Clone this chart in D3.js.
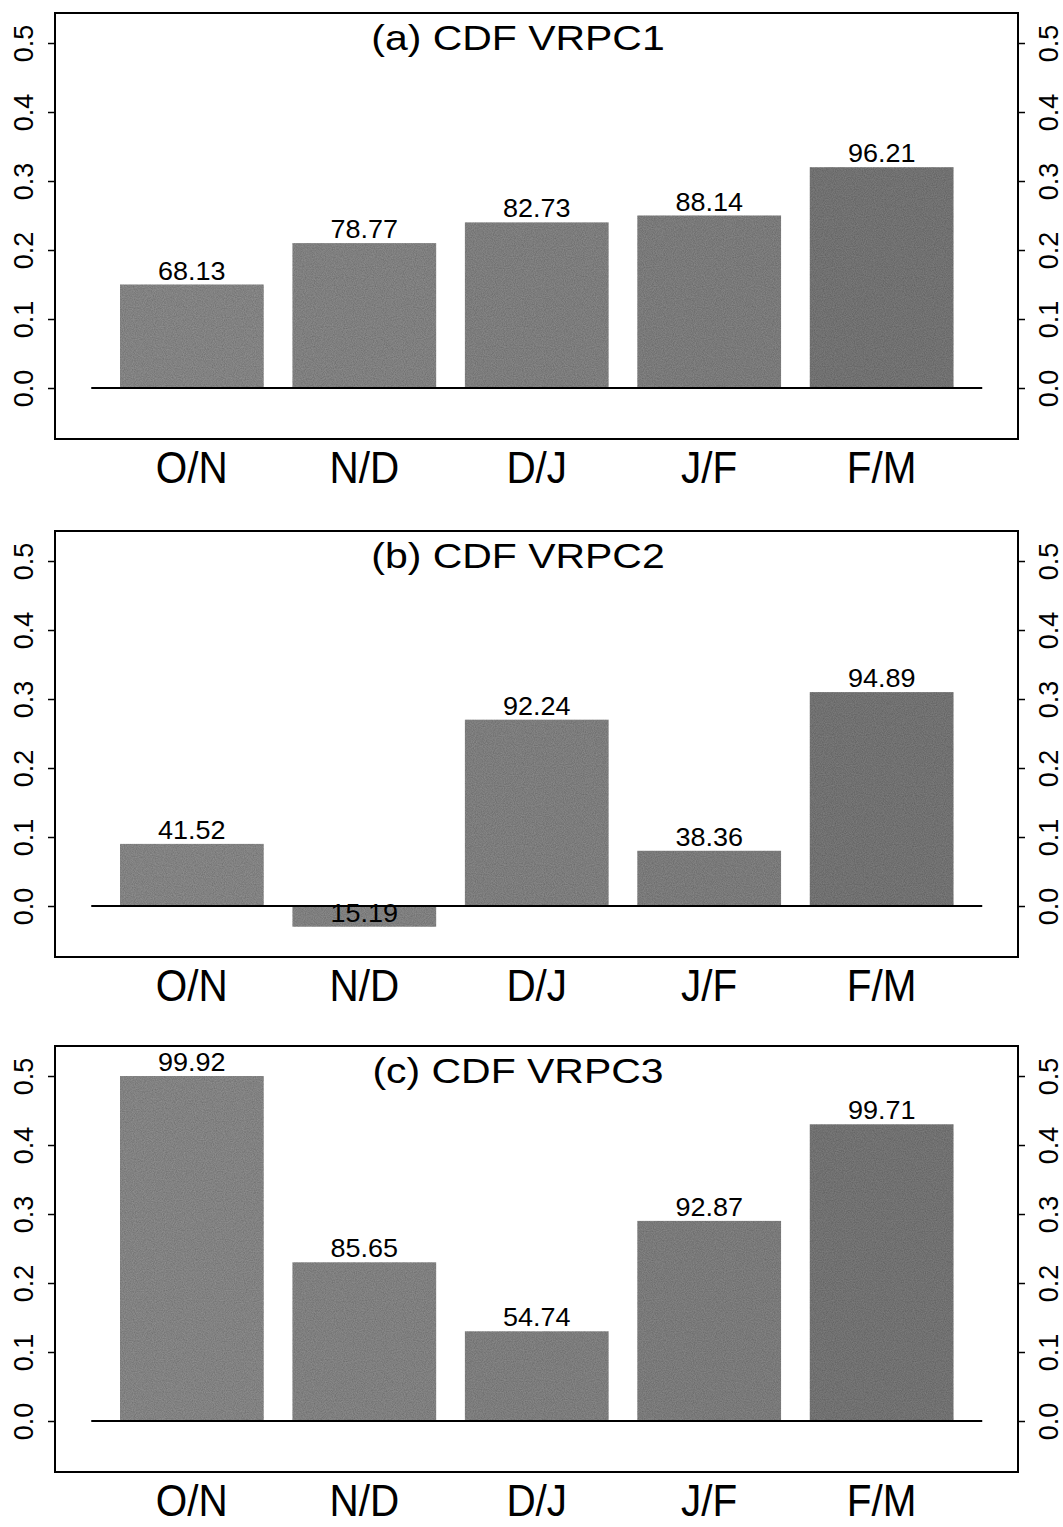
<!DOCTYPE html>
<meta charset="utf-8">
<style>
  body { margin: 0; background: #fff; }
  svg text { font-family: 'Liberation Sans', Arial, Helvetica, sans-serif; fill: #000; }
</style>
<svg width="1063" height="1527">
  <defs>
    <filter id="grain" x="0" y="0" width="100%" height="100%">
      <feTurbulence type="fractalNoise" baseFrequency="0.9" numOctaves="2" seed="3" result="noise"/>
      <feColorMatrix in="noise" type="matrix"
        values="0 0 0 0 0  0 0 0 0 0  0 0 0 0 0  0 0 0 0.55 -0.1" result="dots"/>
      <feComposite in="dots" in2="SourceGraphic" operator="in" result="clipped"/>
      <feMerge><feMergeNode in="SourceGraphic"/><feMergeNode in="clipped"/></feMerge>
    </filter>
  </defs>
</svg>
<script src="https://cdn.jsdelivr.net/npm/d3@7"></script>
<script>
// data
var categories = ["O/N", "N/D", "D/J", "J/F", "F/M"]
var titles = ["(a) CDF VRPC1", "(b) CDF VRPC2", "(c) CDF VRPC3"]
var valuesA = [0.15, 0.21, 0.24, 0.25, 0.32]
var labelsA = ["68.13", "78.77", "82.73", "88.14", "96.21"]
var valuesB = [0.09, -0.03, 0.27, 0.08, 0.31]
var labelsB = ["41.52", "15.19", "92.24", "38.36", "94.89"]
var valuesC = [0.50, 0.23, 0.13, 0.29, 0.43]
var labelsC = ["99.92", "85.65", "54.74", "92.87", "99.71"]
var yTicks = [0.0, 0.1, 0.2, 0.3, 0.4, 0.5]

var panels = [
  { title: titles[0], values: valuesA, labels: labelsA },
  { title: titles[1], values: valuesB, labels: labelsB },
  { title: titles[2], values: valuesC, labels: labelsC }
]

var svg = d3.select("svg")
var boxLeft = 55, boxRight = 1018, boxHeight = 426
var panelTops = [13, 531, 1046]

var x = d3.scaleBand()
    .domain(categories)
    .range([120, 953.5])
    .paddingInner(1 / 6)
    .paddingOuter(0)

var y = d3.scaleLinear()
    .domain([-0.0739, 0.5435])
    .range([boxHeight, 0])

// later months print a little darker in the original
var shade = d3.scaleOrdinal()
    .domain(categories)
    .range(["#8e8e8e", "#8b8b8b", "#888888", "#858585", "#7c7c7c"])

var barPad = x.bandwidth() * 0.2
var fmt = d3.format(".1f")

panels.forEach(function(p, i) {
  var g = svg.append("g")
      .attr("transform", "translate(0," + panelTops[i] + ")")

  // bars
  g.selectAll("rect.bar")
    .data(p.values)
    .enter().append("rect")
      .attr("class", "bar")
      .attr("x", function(d, j) { return x(categories[j]) })
      .attr("width", x.bandwidth())
      .attr("y", function(d) { return y(Math.max(d, 0)) })
      .attr("height", function(d) { return Math.abs(y(d) - y(0)) })
      .attr("fill", function(d, j) { return shade(categories[j]) })
      .attr("filter", "url(#grain)")

  // zero line
  g.append("line")
      .attr("x1", x(categories[0]) - barPad)
      .attr("x2", x(categories[categories.length - 1]) + x.bandwidth() + barPad)
      .attr("y1", y(0))
      .attr("y2", y(0))
      .attr("stroke", "#000")
      .attr("stroke-width", 2)

  // value labels
  g.selectAll("text.val")
    .data(p.labels)
    .enter().append("text")
      .attr("class", "val")
      .attr("transform", function(d, j) {
        return "translate(" + (x(categories[j]) + x.bandwidth() / 2) + "," + (y(p.values[j]) - 5) + ") scale(1.08,1)"
      })
      .attr("text-anchor", "middle")
      .style("font-size", "25px")
      .text(function(d) { return d })

  // frame
  g.append("rect")
      .attr("x", boxLeft)
      .attr("y", 0)
      .attr("width", boxRight - boxLeft)
      .attr("height", boxHeight)
      .attr("fill", "none")
      .attr("stroke", "#000")
      .attr("stroke-width", 2)

  // left and right axes
  var left = g.append("g")
      .attr("transform", "translate(" + boxLeft + ",0)")
      .call(d3.axisLeft(y).tickValues(yTicks).tickSize(7).tickFormat(fmt))
  var right = g.append("g")
      .attr("transform", "translate(" + boxRight + ",0)")
      .call(d3.axisRight(y).tickValues(yTicks).tickSize(7).tickFormat(fmt))

  ;[[left, -22], [right, 40]].forEach(function(a) {
    a[0].attr("font-size", 27).attr("font-family", null)
    a[0].select(".domain").remove()
    a[0].selectAll(".tick line").attr("stroke-width", 1.5)
    a[0].selectAll(".tick text")
        .attr("transform", "rotate(-90)")
        .attr("x", 0)
        .attr("y", a[1])
        .attr("dy", 0)
        .attr("text-anchor", "middle")
        .style("font-size", "27px")
  })

  // title
  g.append("text")
      .attr("transform", "translate(518,37) scale(1.17,1)")
      .attr("text-anchor", "middle")
      .style("font-size", "35px")
      .text(p.title)

  // category labels
  g.selectAll("text.cat")
    .data(categories)
    .enter().append("text")
      .attr("class", "cat")
      .attr("transform", function(d) {
        return "translate(" + (x(d) + x.bandwidth() / 2) + "," + (boxHeight + 44) + ") scale(0.92,1)"
      })
      .attr("text-anchor", "middle")
      .style("font-size", "44px")
      .text(function(d) { return d })
})
</script>
